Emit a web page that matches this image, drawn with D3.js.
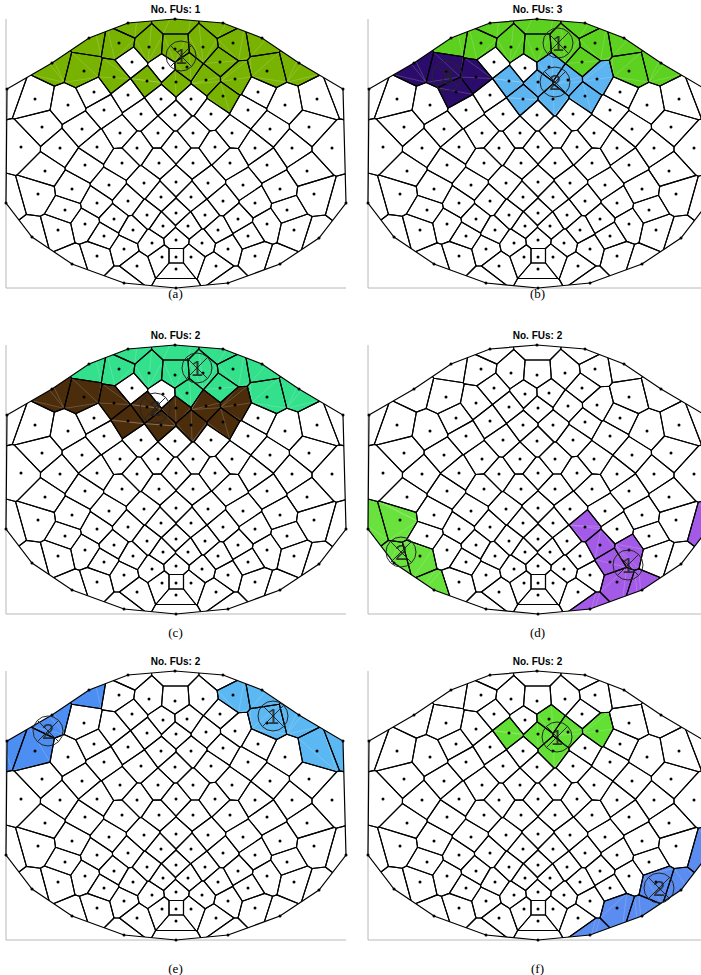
<!DOCTYPE html>
<html><head><meta charset="utf-8">
<script src="https://cdn.jsdelivr.net/npm/d3@7"></script>
<style>body{margin:0;background:#fff}</style>
</head><body>
<svg id="c" width="701" height="975" style="display:block"></svg>
<script>
// ---------------- DATA ----------------
// electrode positions (panel units), outer ring in drawing order
const boundaryPts = [[7,89],[52,63],[89,38],[128,23],[175,19],[223,23],[262,38],[299,63],[343,89],[346,203],[319,238],[280,264],[228,283],[176,288],[124,283],[72,264],[32,237],[6,203]];
const innerPts = [
 [119,43],[149,47],[175,49],[203,47],[233,43],
 [84,71],[132,62],[163,68],[187,67],[220,62],[267,71],
 [114,77],[147,81],[176,82],[206,80],[235,79],
 [35,99],[94,92],[128,95],[161,99],[191,99],[223,96],[258,92],[317,99],
 [68,105],[104,110],[141,114],[175,115],[211,114],[248,110],[285,105],
 [42,127],[82,129],[120,133],[158,133],[193,133],[232,133],[270,129],[309,127],
 [21,147],[60,148],[97,147],[137,148],[176,147],[215,147],[255,148],[292,148],[332,148],
 [45,171],[85,165],[122,163],[159,163],[193,163],[230,163],[267,165],[307,171],
 [38,194],[72,189],[109,185],[144,183],[176,182],[208,183],[243,185],[280,189],[314,194],
 [65,210],[97,203],[128,201],[161,197],[191,197],[223,201],[255,203],[287,210],
 [58,230],[85,224],[114,219],[147,215],[176,213],[205,215],[238,219],[267,224],[294,230],
 [104,236],[133,230],[163,226],[188,226],[218,230],[248,236],
 [124,249],[152,243],[176,240],[202,243],[228,249],
 [97,256],[137,266],[162,257],[176,257],[191,257],[216,266],[255,256],
 [176,269]
];
const titleCounts = [1,3,2,2,2,2];
const captionLabels = ["(a)","(b)","(c)","(d)","(e)","(f)"];

// firing units per panel: colour, label, centre of the marker, cells (by electrode position)
const unitsA = [
 {label:"1", color:"#77b300", center:[181,56], cells:[[52,63],[89,38],[128,23],[175,19],[223,23],[262,38],[299,63],[119,43],[149,47],[175,49],[203,47],[233,43],[84,71],[187,67],[220,62],[267,71],[114,77],[147,81],[176,82],[206,80],[235,79],[223,96]]}
];
const unitsB = [
 {label:"1", color:"#5cd11f", center:[196,43], cells:[[89,38],[128,23],[175,19],[223,23],[262,38],[299,63],[119,43],[149,47],[175,49],[203,47],[233,43],[220,62],[267,71]]},
 {label:"2", color:"#5cb4f0", center:[193,82], cells:[[147,81],[176,82],[206,80],[235,79],[161,99],[191,99],[223,96],[187,67]]},
 {label:"3", color:"#2b0c6b", center:[85,76], cells:[[52,63],[84,71],[114,77],[94,92]]}
];
const unitsC = [
 {label:"1", color:"#33e08c", center:[197,42], cells:[[89,38],[128,23],[175,19],[223,23],[262,38],[299,63],[119,43],[149,47],[175,49],[203,47],[233,43],[187,67],[220,62],[267,71]]},
 {label:"2", color:"#4b2d0b", center:[155,82], cells:[[52,63],[84,71],[114,77],[147,81],[128,95],[161,99],[176,82],[206,80],[191,99],[223,96],[235,79]]}
];
const unitsD = [
 {label:"1", color:"#a35ae6", center:[266,239], cells:[[223,201],[238,219],[248,236],[267,224],[255,256],[280,264],[228,283],[346,203]]},
 {label:"2", color:"#6ae23e", center:[39,226], cells:[[6,203],[38,194],[32,237],[58,230],[72,264]]}
];
const unitsE = [
 {label:"1", color:"#5cb8f2", center:[273,64], cells:[[233,43],[262,38],[267,71],[299,63],[343,89],[317,99]]},
 {label:"2", color:"#4c8ef2", center:[48,79], cells:[[7,89],[52,63],[89,38],[35,99]]}
];
const unitsF = [
 {label:"1", color:"#62e034", center:[195,85], cells:[[147,81],[176,82],[206,80],[235,79],[187,67],[191,99]]},
 {label:"2", color:"#5b8cf0", center:[297,236], cells:[[346,203],[319,238],[280,264],[294,230],[255,256],[228,283]]}
];
const panelUnits = [unitsA, unitsB, unitsC, unitsD, unitsE, unitsF];
const colOffsets = [0, 362];
const rowOffsets = [0, 326, 652];
const captionY = [298, 637, 973];

// ---------------- DRAW ----------------
const svg = d3.select("#c");
const pts = boundaryPts.concat(innerPts);
const delaunay = d3.Delaunay.from(pts);
const vor = delaunay.voronoi([-60, -60, 410, 360]);
const cellPolys = pts.map((p, i) => vor.cellPolygon(i));
const xExt = d3.extent(pts, d => d[0]);
const yExt = d3.extent(pts, d => d[1]);
const defs = svg.append("defs");

panelUnits.forEach((units, k) => {
  const col = k % 2, row = Math.floor(k / 2);
  const ox = colOffsets[col], oy = rowOffsets[row];
  const x = d3.scaleLinear().domain([0, 350]).range([ox, ox + 350]);
  const y = d3.scaleLinear().domain([0, 300]).range([oy, oy + 300]);
  const line = d3.line().x(d => x(d[0])).y(d => y(d[1]));
  const g = svg.append("g");

  // axes (tight limits)
  g.append("line").attr("x1", x(xExt[0])).attr("x2", x(xExt[0])).attr("y1", y(yExt[0])).attr("y2", y(yExt[1]))
    .attr("stroke", "#b8b8b8").attr("stroke-width", 1);
  g.append("line").attr("x1", x(xExt[0])).attr("x2", x(xExt[1])).attr("y1", y(yExt[1])).attr("y2", y(yExt[1]))
    .attr("stroke", "#b8b8b8").attr("stroke-width", 1);

  const id = "clip" + k;
  defs.append("clipPath").attr("id", id).append("path").attr("d", line(boundaryPts) + "Z");

  const colorOf = new Map();
  units.forEach(u => u.cells.forEach(c => colorOf.set(delaunay.find(c[0], c[1]), u.color)));

  const cg = g.append("g").attr("clip-path", `url(#${id})`);
  cellPolys.forEach((poly, i) => {
    if (!poly) return;
    const col = colorOf.get(i);
    cg.append("path").attr("d", line(poly) + "Z").attr("fill", col || "#fff").attr("stroke", col || "none").attr("stroke-width", 0.5);
    if (col) {
      const v = poly.slice(0, poly.length - 1);
      for (let j = 2; j < v.length - 1; j++) {
        cg.append("line").attr("x1", x(v[0][0])).attr("y1", y(v[0][1])).attr("x2", x(v[j][0])).attr("y2", y(v[j][1]))
          .attr("stroke", "rgba(255,255,255,0.3)").attr("stroke-width", 0.6);
      }
    }
  });
  cellPolys.forEach((poly) => {
    if (!poly) return;
    cg.append("path").attr("d", line(poly) + "Z").attr("fill", "none").attr("stroke", "#000").attr("stroke-width", 1.15).attr("stroke-linejoin", "round");
  });
  g.append("path").attr("d", line(boundaryPts) + "Z").attr("fill", "none").attr("stroke", "#000").attr("stroke-width", 1.2);

  // electrodes
  g.selectAll("circle.e").data(pts).join("circle").attr("class", "e")
    .attr("cx", d => x(d[0])).attr("cy", d => y(d[1])).attr("r", 1.5).attr("fill", "#000");

  // unit markers
  units.forEach(u => {
    const cx = x(u.center[0]), cy = y(u.center[1]), r = 15, d = r * Math.SQRT1_2;
    const mg = g.append("g").attr("stroke", "#262626").attr("stroke-width", 1).attr("fill", "none");
    mg.append("circle").attr("cx", cx).attr("cy", cy).attr("r", r);
    mg.append("line").attr("x1", cx - d).attr("y1", cy - d).attr("x2", cx + d).attr("y2", cy + d);
    mg.append("line").attr("x1", cx + d).attr("y1", cy - d).attr("x2", cx - d).attr("y2", cy + d);
    g.append("text").attr("x", cx).attr("y", cy + 8).attr("text-anchor", "middle")
      .attr("font-family", "Liberation Sans, Arial, sans-serif").attr("font-size", 22)
      .attr("fill", "#222").attr("fill-opacity", 0.85).text(u.label);
  });

  // title
  g.append("text").attr("x", x(175.5)).attr("y", oy + 13).attr("text-anchor", "middle")
    .attr("font-family", "Liberation Sans, Arial, sans-serif").attr("font-weight", "bold").attr("font-size", 10)
    .attr("fill", "#000").text("No. FUs: " + titleCounts[k]);
  // caption
  g.append("text").attr("x", x(175.5)).attr("y", captionY[row]).attr("text-anchor", "middle")
    .attr("font-family", "Liberation Serif, Times New Roman, serif").attr("font-size", 13)
    .attr("fill", "#000").text(captionLabels[k]);
});
</script>
</body></html>
